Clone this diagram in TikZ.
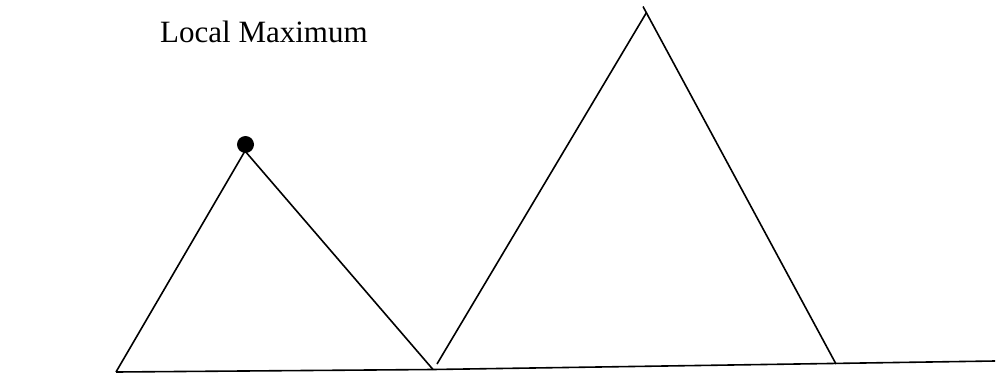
\documentclass[tikz,border=0pt]{standalone}
\usepackage{fontspec}
\setmainfont{Liberation Serif}
\usetikzlibrary{positioning}

\begin{document}
\begin{tikzpicture}[
  x=1pt, y=-1pt,
  curve/.style={line width=1.6pt, color=black},
  peakdot/.style={circle, fill=black, inner sep=0pt, minimum size=17pt},
  label/.style={font=\fontsize{31}{36}\selectfont, inner sep=0pt, anchor=base west}
]
\useasboundingbox (0,0) rectangle (1003,372);

% Points
\coordinate (leftfoot) at (116,372);
\coordinate (leftpeak) at (245,151);
\coordinate (valley) at (433,369.5);
\coordinate (rightfoot) at (437,364);
\coordinate (toppeak) at (646.5,12.5);
\coordinate (tick) at (643,6.5);
\coordinate (rightend) at (836,364);
\coordinate (baseend) at (995,361);

% Nodes
\node[peakdot] (dot) at (245.5,144.5) {};
\node[label] (title) at (160,42.3) {Local Maximum};

% Lines
\draw[curve] (leftfoot) -- (leftpeak) -- (valley);
\draw[curve] (rightfoot) -- (toppeak);
\draw[curve] (tick) -- (rightend);
\draw[curve] (leftfoot) -- (valley) -- (baseend);
\end{tikzpicture}
\end{document}
